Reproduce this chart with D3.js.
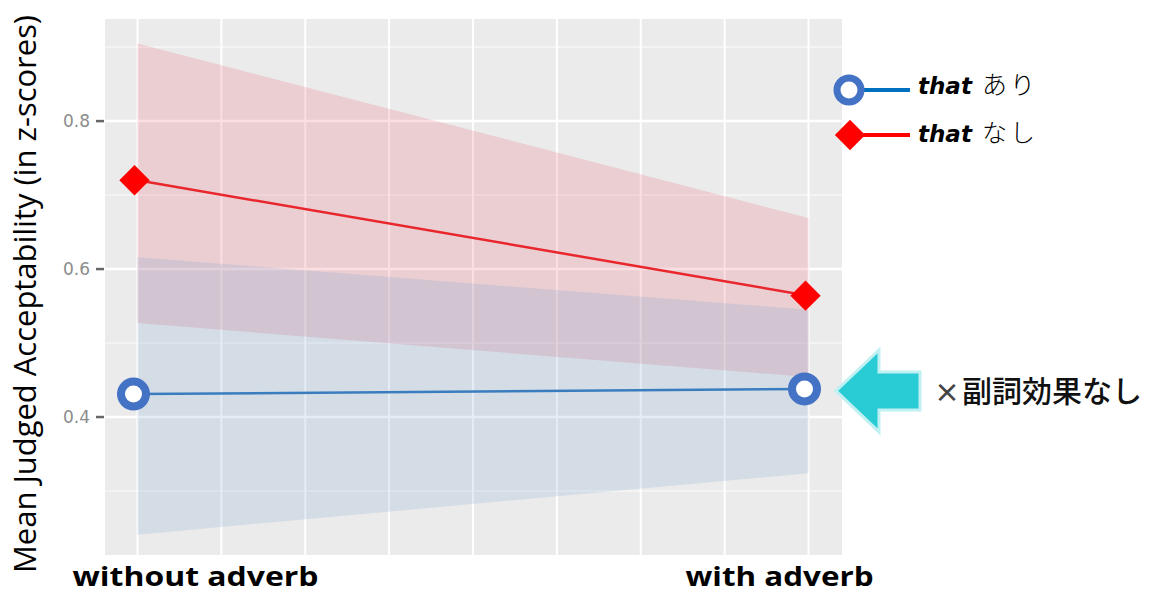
<!DOCTYPE html>
<html>
<head>
<meta charset="utf-8">
<script src="https://cdn.jsdelivr.net/npm/d3@7"></script>
<style>
  html, body { margin: 0; padding: 0; background: #ffffff; }
  svg { display: block; }
</style>
</head>
<body>
<svg id="chart" width="1154" height="595"></svg>
<script>
// Conditions on the x axis
const conditions = ["without adverb", "with adverb"];

// "that" present (あり): mean and confidence band
const presentMean  = [0.431, 0.438];
const presentLower = [0.241, 0.324];
const presentUpper = [0.616, 0.545];

// "that" absent (なし): mean and confidence band
const absentMean  = [0.720, 0.564];
const absentLower = [0.527, 0.454];
const absentUpper = [0.905, 0.669];

// Axis ticks
const yMajorTicks = [0.4, 0.6, 0.8];
const yMinorTicks = [0.3, 0.5, 0.7, 0.9];
const yTickLabels = ["0.4", "0.6", "0.8"];

const svg = d3.select("#chart");

const panel = { left: 105, right: 842, top: 19, bottom: 555 };

const x = d3.scalePoint().domain(conditions).range([137.5, 808.5]);
const y = d3.scaleLinear().domain([0.2135, 0.938]).range([panel.bottom, panel.top]);

// Panel background
svg.append("rect")
  .attr("x", panel.left).attr("y", panel.top)
  .attr("width", panel.right - panel.left)
  .attr("height", panel.bottom - panel.top)
  .attr("fill", "#ebebeb");

// Horizontal grid
svg.append("g").selectAll("line").data(yMinorTicks).join("line")
  .attr("x1", panel.left).attr("x2", panel.right)
  .attr("y1", d => y(d)).attr("y2", d => y(d))
  .attr("stroke", "#f7f7f7").attr("stroke-width", 1.5);
svg.append("g").selectAll("line").data(yMajorTicks).join("line")
  .attr("x1", panel.left).attr("x2", panel.right)
  .attr("y1", d => y(d)).attr("y2", d => y(d))
  .attr("stroke", "#ffffff").attr("stroke-width", 2.5);

// Vertical grid: evenly spaced between the two conditions
const xa = x(conditions[0]), xb = x(conditions[1]);
const vGrid = d3.range(9).map(i => xa + i * (xb - xa) / 8);
svg.append("g").selectAll("line").data(vGrid).join("line")
  .attr("x1", d => d).attr("x2", d => d)
  .attr("y1", panel.top).attr("y2", panel.bottom)
  .attr("stroke", "#ffffff").attr("stroke-width", 2);

// Confidence ribbons
function bandData(lo, hi) {
  return conditions.map((c, i) => ({ c, lo: lo[i], hi: hi[i] }));
}
const area = d3.area()
  .x(d => x(d.c))
  .y0(d => y(d.lo))
  .y1(d => y(d.hi));

svg.append("path")
  .datum(bandData(absentLower, absentUpper))
  .attr("d", area)
  .attr("fill", "rgb(228, 90, 108)")
  .attr("fill-opacity", 0.2);

svg.append("path")
  .datum(bandData(presentLower, presentUpper))
  .attr("d", area)
  .attr("fill", "rgb(120, 160, 205)")
  .attr("fill-opacity", 0.2);

// Mean lines
const line = d3.line().x(d => x(d.c)).y(d => y(d.v));
const presentPts = conditions.map((c, i) => ({ c, v: presentMean[i] }));
const absentPts = conditions.map((c, i) => ({ c, v: absentMean[i] }));

svg.append("path").datum(absentPts).attr("d", line)
  .attr("fill", "none").attr("stroke", "#e8262b").attr("stroke-width", 2.5);
svg.append("path").datum(presentPts).attr("d", line)
  .attr("fill", "none").attr("stroke", "#3a7dbf").attr("stroke-width", 2.5);

// Markers
const diamond = d3.symbol().type(d3.symbolSquare).size(460);
svg.append("g").selectAll("path").data(absentPts).join("path")
  .attr("d", diamond)
  .attr("transform", d => `translate(${x(d.c) - 3},${y(d.v)}) rotate(45)`)
  .attr("fill", "#ff0000");

svg.append("g").selectAll("circle").data(presentPts).join("circle")
  .attr("cx", d => x(d.c) - 4).attr("cy", d => y(d.v))
  .attr("r", 12.5)
  .attr("fill", "#ffffff")
  .attr("stroke", "#4472c4").attr("stroke-width", 8);

// Y axis ticks and labels
const yAxis = svg.append("g");
yAxis.selectAll("line").data(yMajorTicks).join("line")
  .attr("x1", 96).attr("x2", 104)
  .attr("y1", d => y(d)).attr("y2", d => y(d))
  .attr("stroke", "#666").attr("stroke-width", 2.5);
yAxis.selectAll("text").data(yMajorTicks).join("text")
  .attr("x", 90).attr("y", d => y(d))
  .attr("dy", "0.36em")
  .attr("text-anchor", "end")
  .attr("font-family", "DejaVu Sans, sans-serif")
  .attr("font-size", 17)
  .attr("fill", "#8c8c8c")
  .text((d, i) => yTickLabels[i]);

// Y axis title
svg.append("text")
  .attr("transform", "translate(36,294) rotate(-90)")
  .attr("text-anchor", "middle")
  .attr("font-family", "Open Sans, Noto Sans, sans-serif")
  .attr("font-size", 31)
  .attr("font-weight", 500)
  .attr("fill", "#000")
  .attr("textLength", 558)
  .attr("lengthAdjust", "spacingAndGlyphs")
  .text("Mean Judged Acceptability (in z-scores)");

// X axis labels
const xLabelShift = [58, -29];
const xLabelWidth = [246, 188];
svg.append("g").selectAll("text").data(conditions).join("text")
  .attr("x", (d, i) => x(d) + xLabelShift[i])
  .attr("y", 586)
  .attr("text-anchor", "middle")
  .attr("font-family", "Open Sans, Noto Sans, sans-serif")
  .attr("font-weight", "bold")
  .attr("font-size", 27)
  .attr("fill", "#000")
  .attr("textLength", (d, i) => xLabelWidth[i])
  .attr("lengthAdjust", "spacingAndGlyphs")
  .text(d => d);

// Legend
const legend = svg.append("g");
const legendItems = [
  { key: "あり", y: 90, color: "#0070c0", shape: "circle" },
  { key: "なし", y: 135, color: "#ff0000", shape: "diamond" }
];
legendItems.forEach(it => {
  legend.append("line")
    .attr("x1", 850).attr("x2", 910)
    .attr("y1", it.y).attr("y2", it.y)
    .attr("stroke", it.color).attr("stroke-width", 4);
  if (it.shape === "circle") {
    legend.append("circle")
      .attr("cx", 849).attr("cy", it.y).attr("r", 12)
      .attr("fill", "#fff").attr("stroke", "#4472c4").attr("stroke-width", 7);
  } else {
    legend.append("path")
      .attr("d", d3.symbol().type(d3.symbolSquare).size(460))
      .attr("transform", `translate(850,${it.y}) rotate(45)`)
      .attr("fill", "#ff0000");
  }
  const t = legend.append("text")
    .attr("x", 918).attr("y", it.y + 4 + (it.shape === "circle" ? 0 : 3))
    .attr("fill", "#000");
  t.append("tspan")
    .attr("font-family", "DejaVu Sans, sans-serif")
    .attr("font-size", 23)
    .attr("font-weight", "bold").attr("font-style", "italic")
    .text("that");
  t.append("tspan")
    .attr("dx", 10)
    .attr("font-family", "Noto Sans CJK JP, sans-serif")
    .attr("font-size", 25)
    .attr("font-weight", 300)
    .attr("letter-spacing", 3)
    .text(it.key);
});

// Callout arrow pointing at the "with adverb" point of the あり series
const ay = y(presentMean[1]) + 2;
const arrowPts = [
  [836, ay], [879, ay - 41], [879, ay - 19], [920, ay - 19],
  [920, ay + 19], [879, ay + 19], [879, ay + 41]
];
svg.append("polygon")
  .attr("points", arrowPts.map(p => p.join(",")).join(" "))
  .attr("fill", "#29cbd5")
  .attr("stroke", "#bff0f2").attr("stroke-width", 3)
  .attr("stroke-linejoin", "miter");

svg.append("text")
  .attr("x", 934).attr("y", ay + 11)
  .attr("font-family", "Noto Sans CJK JP, sans-serif")
  .attr("font-size", 30)
  .attr("font-weight", 500)
  .attr("fill", "#111")
  .call(t => {
    t.append("tspan").attr("fill", "#444").attr("font-weight", "bold").attr("font-size", 26).text("×");
    t.append("tspan").attr("dx", 2).text("副詞効果なし");
  });
</script>
</body>
</html>
